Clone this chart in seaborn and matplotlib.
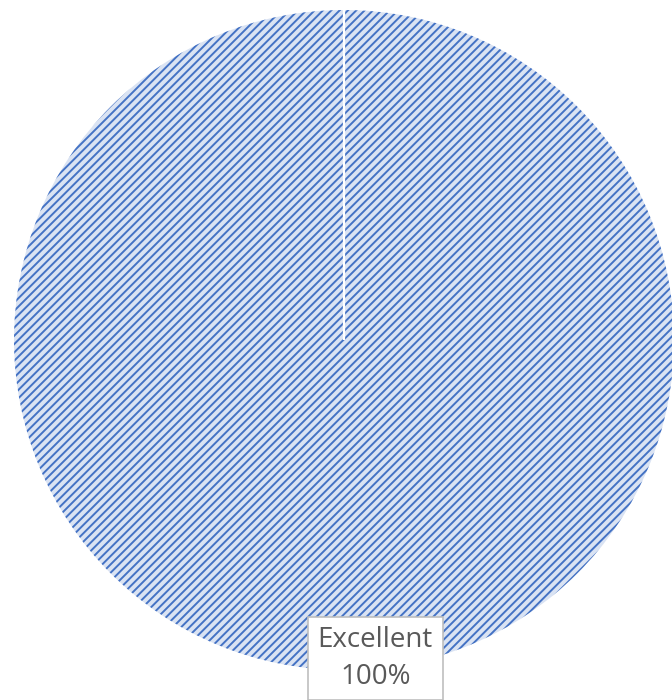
import matplotlib
matplotlib.use("Agg")
import matplotlib.pyplot as plt
import seaborn as sns

# Rating breakdown
categories = ["Excellent"]
shares = [100]
labels = ["Excellent\n100%"]

sns.set_theme(style="white")
plt.rcParams["font.family"] = ["Open Sans", "DejaVu Sans"]
plt.rcParams["hatch.linewidth"] = 1.4

W, H, DPI = 672, 700, 100
fig = plt.figure(figsize=(W / DPI, H / DPI), dpi=DPI)
ax = fig.add_axes([0, 0, 1, 1])

cx, cy, r = 344, 340, 330  # pie centre and radius in pixels (from top-left)
start = 90

# hatched fill: the hatch takes the edge colour, so the outline is drawn separately
wedges, _ = ax.pie(
    shares,
    startangle=start,
    counterclock=False,
    radius=1,
    colors=["#DAE3F3"],
    wedgeprops=dict(edgecolor="#4472C4", linewidth=0, hatch="////"),
)

# slice border along the start angle (a full-circle wedge has no radial edge)
w = wedges[0]
ax.plot([w.center[0], w.center[0]], [w.center[1], w.center[1] + w.r],
        color="white", linewidth=1.6, solid_capstyle="butt")

ax.set_xlim(-cx / r, (W - cx) / r)
ax.set_ylim(-(H - cy) / r, cy / r)
ax.set_aspect("auto")
ax.axis("off")

ax.text(
    0.095, -0.965, labels[0],
    ha="center", va="center", fontsize=20, color="#595959", linespacing=1.4,
    bbox=dict(boxstyle="square,pad=0.35", facecolor="white", edgecolor="#BFBFBF", linewidth=1.2),
)

fig.savefig("out.png", dpi=DPI)
